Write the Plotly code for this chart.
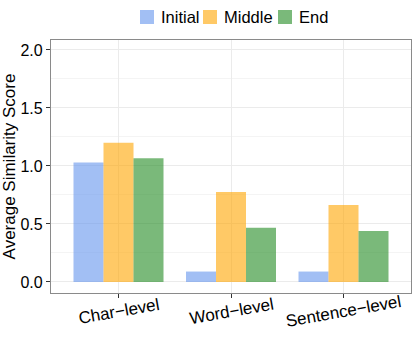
import plotly.graph_objects as go

categories = ["Char\u2212level", "Word\u2212level", "Sentence\u2212level"]
series_names = ["Initial", "Middle", "End"]
initial = [1.03, 0.09, 0.09]
middle = [1.20, 0.776, 0.664]
end = [1.066, 0.468, 0.44]
y_ticks = [0.0, 0.5, 1.0, 1.5, 2.0]
y_tick_labels = ["0.0", "0.5", "1.0", "1.5", "2.0"]

colors = ["rgba(100,149,237,0.6)", "rgba(255,165,0,0.6)", "rgba(34,139,34,0.6)"]
values = [initial, middle, end]

W, H = 415, 357
ML, MR, MT, MB = 51, 4, 40, 64
PW, PH = W - ML - MR, H - MT - MB

def px(x):
    return (x - ML) / PW

def py(y):
    return (H - MB - y) / PH

fig = go.Figure()
for name, vals, c in zip(series_names, values, colors):
    fig.add_trace(go.Bar(x=categories, y=vals, name=name, showlegend=False,
                         marker=dict(color=c, line=dict(width=0))))

# centred, rotated category labels
for cat in categories:
    fig.add_annotation(x=cat, xref="x", y=py(311), yref="paper", text=cat,
                       showarrow=False, textangle=-10, xanchor="center", yanchor="middle",
                       font=dict(size=17, color="black"))

# legend (ggplot-style, compact keys)
legend_key_left = [140, 203, 278]
for name, c, kx in zip(series_names, colors, legend_key_left):
    fig.add_shape(type="rect", xref="paper", yref="paper",
                  x0=px(kx), x1=px(kx + 14), y0=py(24), y1=py(10),
                  fillcolor=c, line=dict(width=0))
    fig.add_annotation(x=px(kx + 19), xref="paper", y=py(17), yref="paper",
                       text=name, showarrow=False, xanchor="left", yanchor="middle",
                       font=dict(size=16.5, color="black"))

font = "Liberation Sans, Arial, sans-serif"
fig.update_layout(
    width=W, height=H,
    margin=dict(l=ML, r=MR, t=MT, b=MB, autoexpand=False),
    paper_bgcolor="white", plot_bgcolor="white",
    barmode="group", bargap=0.2, bargroupgap=0,
    font=dict(family=font, size=16, color="black"),
    showlegend=False,
)
fig.update_xaxes(
    range=[-0.6, 2.6], showline=True, linecolor="#8a8a8a", linewidth=1.2, mirror=True,
    showgrid=True, gridcolor="#ebebeb", gridwidth=1, automargin=False,
    ticks="outside", ticklen=4, tickcolor="#333333", showticklabels=False,
    zeroline=False,
)
fig.update_yaxes(
    range=[-0.095, 2.086], showline=True, linecolor="#8a8a8a", linewidth=1.2, mirror=True,
    showgrid=True, gridcolor="#ebebeb", gridwidth=1, automargin=False,
    minor=dict(showgrid=True, dtick=0.25, tick0=0, gridcolor="#f4f4f4", gridwidth=0.8),
    tickvals=y_ticks, ticktext=y_tick_labels,
    ticks="outside", ticklen=4, tickcolor="#333333",
    tickfont=dict(size=16, color="black"), zeroline=False,
    title=dict(text="Average Similarity Score", font=dict(size=17), standoff=0),
)
fig.write_html("out.html", config={"displayModeBar": False},
               post_script="document.body.style.margin='0px';")
